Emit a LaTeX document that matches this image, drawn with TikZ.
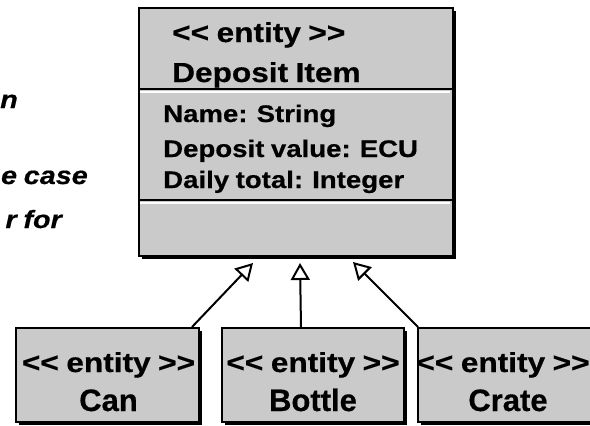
\documentclass[tikz,border=0pt]{standalone}
\usepackage{fontspec}
\setmainfont{Liberation Sans}[FakeStretch=1.15, WordSpace=0.85, BoldFeatures={FakeBold=0.5}, BoldItalicFeatures={FakeBold=0.5}]
\newfontfamily\plainsans{Liberation Sans}[BoldFeatures={FakeBold=0.5}]
\usetikzlibrary{arrows.meta,shadows,calc}
\definecolor{boxgray}{RGB}{202,202,202}
\newcommand{\stlabel}{<{}< entity >{}>}
\begin{document}
\begin{tikzpicture}[x=1pt,y=-1pt,
  umlbox/.style={draw=black, line width=2pt, fill=boxgray, rectangle, inner sep=0pt,
    general shadow={fill=black, shadow xshift=3pt, shadow yshift=-3pt}},
  txt/.style={inner sep=0pt, anchor=base west, font=\bfseries\fontsize{24}{28}\selectfont},
  ttl/.style={inner sep=0pt, anchor=base west, font=\bfseries\fontsize{27.5}{32}\selectfont},
  stereo/.style={inner sep=0pt, anchor=base, font=\bfseries\fontsize{27.5}{32}\selectfont},
  cname/.style={inner sep=0pt, anchor=base, font=\plainsans\bfseries\fontsize{31}{36}\selectfont},
  side/.style={inner sep=0pt, anchor=base east, font=\bfseries\itshape\fontsize{25}{30}\selectfont},
  gen/.style={line width=2pt, -{Triangle[open, length=17pt, width=19pt, line width=2pt]}}]
\useasboundingbox (0,0) rectangle (590,426);
% side text fragments
\node[side] (s1) at (18,108) {n};
\node[side] (s2) at (88,184) {e case};
\node[side] (s3) at (62,228) {r for};
% main class box
\node[umlbox, anchor=north west, minimum width=314pt, minimum height=248pt] (main) at (138,7) {};
\draw[line width=2pt] (main.west |- 0,89) -- (main.east |- 0,89);
\draw[white, line width=2pt] (140,91.8) -- (450,91.8);
\draw[line width=2pt] (main.west |- 0,200) -- (main.east |- 0,200);
\draw[white, line width=2pt] (140,202.8) -- (450,202.8);
\node[ttl] (st) at (172,42) {\stlabel};
\node[ttl] (nm) at (172,82) {Deposit Item};
\node[txt] (a1) at (163,122) {Name: String};
\node[txt] (a2) at (163,157) {Deposit value: ECU};
\node[txt] (a3) at (163,188) {Daily total: Integer};
% subclasses
\node[umlbox, anchor=north west, minimum width=183pt, minimum height=94pt] (can) at (15,327) {};
\node[umlbox, anchor=north west, minimum width=182pt, minimum height=94pt] (bottle) at (221,327) {};
\node[umlbox, anchor=north west, minimum width=182pt, minimum height=94pt] (crate) at (417,327) {};
\node[stereo] (can1) at ($(can.north)+(1,45)$) {\stlabel};
\node[cname] (can2) at ($(can.north)+(1,84)$) {Can};
\node[stereo] (bot1) at ($(bottle.north)+(0,45)$) {\stlabel};
\node[cname] (bot2) at ($(bottle.north)+(0,84)$) {Bottle};
\node[stereo] (cra1) at ($(crate.north)+(-6,45)$) {\stlabel};
\node[cname] (cra2) at ($(crate.north)+(-1,84)$) {Crate};
% generalisation arrows
\coordinate (t1) at (253,263);
\coordinate (t2) at (300,263);
\coordinate (t3) at (353,262);
\draw[gen] ($(can.north east)+(-8,0)$) -- (t1);
\draw[gen] ($(bottle.north)+(-12,0)$) -- (t2);
\draw[gen] ($(crate.north west)+(1,0)$) -- (t3);
\end{tikzpicture}
\end{document}
